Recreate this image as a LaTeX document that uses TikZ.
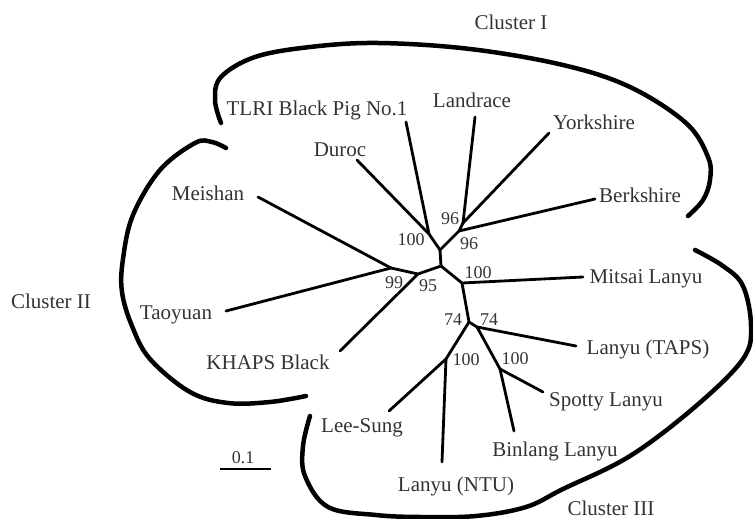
\documentclass[tikz,border=0pt]{standalone}
\usepackage{fontspec}
\setmainfont{Liberation Serif}
\begin{document}
\begin{tikzpicture}[x=1pt,y=-1pt,
  br/.style={line width=2.8pt, line cap=round, line join=round},
  cl/.style={line width=4.5pt, line cap=round},
  lab/.style={inner sep=0pt, text height=14pt, text depth=0pt, font=\fontsize{21}{24}\selectfont, text=black!80},
  bs/.style={inner sep=0pt, text height=12pt, text depth=0pt, font=\fontsize{18}{20}\selectfont, text=black!80}]
\useasboundingbox (0,0) rectangle (753,519);

% internal nodes
\coordinate (D) at (429,234);
\coordinate (A) at (440,250);
\coordinate (B2) at (459,231);
\coordinate (B1) at (463,223);
\coordinate (C) at (441,266);
\coordinate (L) at (418,274);
\coordinate (N) at (391,268);
\coordinate (M) at (462,283);
\coordinate (P) at (469,322);
\coordinate (Q) at (477,327);
\coordinate (R) at (446,359);
\coordinate (S) at (500,369);

% leaf ends
\coordinate (eDuroc) at (357,160);
\coordinate (eTLRI) at (406,122);
\coordinate (eLand) at (475,117);
\coordinate (eYork) at (549,133);
\coordinate (eBerk) at (595,199);
\coordinate (eMei) at (258,197);
\coordinate (eTao) at (226,311);
\coordinate (eKHAPS) at (340,351);
\coordinate (eMits) at (583,277);
\coordinate (eTAPS) at (576,346);
\coordinate (eSpot) at (543,392);
\coordinate (eBin) at (514,431);
\coordinate (eNTU) at (442,462);
\coordinate (eLee) at (389,411);

% branches
\draw[br] (eDuroc) -- (D) -- (A);
\draw[br] (eTLRI) -- (D);
\draw[br] (A) -- (B2) -- (B1);
\draw[br] (eBerk) -- (B2);
\draw[br] (eLand) -- (B1);
\draw[br] (eYork) -- (B1);
\draw[br] (A) -- (C);
\draw[br] (C) -- (L) -- (N);
\draw[br] (eMei) -- (N);
\draw[br] (eTao) -- (N);
\draw[br] (eKHAPS) -- (L);
\draw[br] (C) -- (M) -- (eMits);
\draw[br] (M) -- (P) -- (Q) -- (eTAPS);
\draw[br] (Q) -- (S) -- (eSpot);
\draw[br] (S) -- (eBin);
\draw[br] (P) -- (R) -- (eLee);
\draw[br] (R) -- (eNTU);

% bootstrap values
\node[bs] (bD) at (411,239) {100};
\node[bs] (bB1) at (450,218) {96};
\node[bs] (bB2) at (469,243) {96};
\node[bs] (bN) at (394,282) {99};
\node[bs] (bL) at (428,285) {95};
\node[bs] (bM) at (478,272) {100};
\node[bs] (bP1) at (453,319) {74};
\node[bs] (bP2) at (489,319) {74};
\node[bs] (bR) at (466,359) {100};
\node[bs] (bS) at (515,358) {100};

% leaf labels
\node[lab] (tTLRI) at (317,108) {TLRI Black Pig No.1};
\node[lab] (tLand) at (472,100) {Landrace};
\node[lab] (tYork) at (594,122) {Yorkshire};
\node[lab] (tDuroc) at (340,150) {Duroc};
\node[lab] (tMei) at (208,193) {Meishan};
\node[lab] (tBerk) at (640,195) {Berkshire};
\node[lab] (tMits) at (646,276) {Mitsai Lanyu};
\node[lab] (tTao) at (176,312) {Taoyuan};
\node[lab] (tKHAPS) at (268,362) {KHAPS Black};
\node[lab] (tTAPS) at (648,347) {Lanyu (TAPS)};
\node[lab] (tSpot) at (606,399) {Spotty Lanyu};
\node[lab] (tLee) at (362,425) {Lee-Sung};
\node[lab] (tBin) at (555,449) {Binlang Lanyu};
\node[lab] (tNTU) at (456,484) {Lanyu (NTU)};

% cluster labels
\node[lab] (c1) at (511,23) {Cluster I};
\node[lab] (c2) at (51,301) {Cluster II};
\node[lab] (c3) at (611,508) {Cluster III};

% cluster outlines
\draw[cl] plot[smooth, tension=0.6] coordinates {(221,123) (215,100) (221,77) (255,57) (310,47) (378,43) (470,49) (563,65) (630,87) (686,123) (708,157) (710,180) (703,200) (688,216)};
\draw[cl] plot[smooth, tension=0.6] coordinates {(226,148) (212,142) (195,143) (160,170) (133,215) (123,259) (122,292) (132,326) (150,359) (190,392) (228,403) (270,402) (306,396)};
\draw[cl] plot[smooth, tension=0.6] coordinates {(695,250) (723,266) (743,286) (751,326) (743,359) (696,406) (630,456) (563,489) (526,507) (476,516) (420,517) (376,515) (328,507) (305,476) (303,446) (310,416)};

% scale bar
\coordinate (s1) at (220,469);
\coordinate (s2) at (271,469);
\draw[line width=2.4pt] (s1) -- (s2);
\node[bs] (sc) at (243,457) {0.1};
\end{tikzpicture}
\end{document}
